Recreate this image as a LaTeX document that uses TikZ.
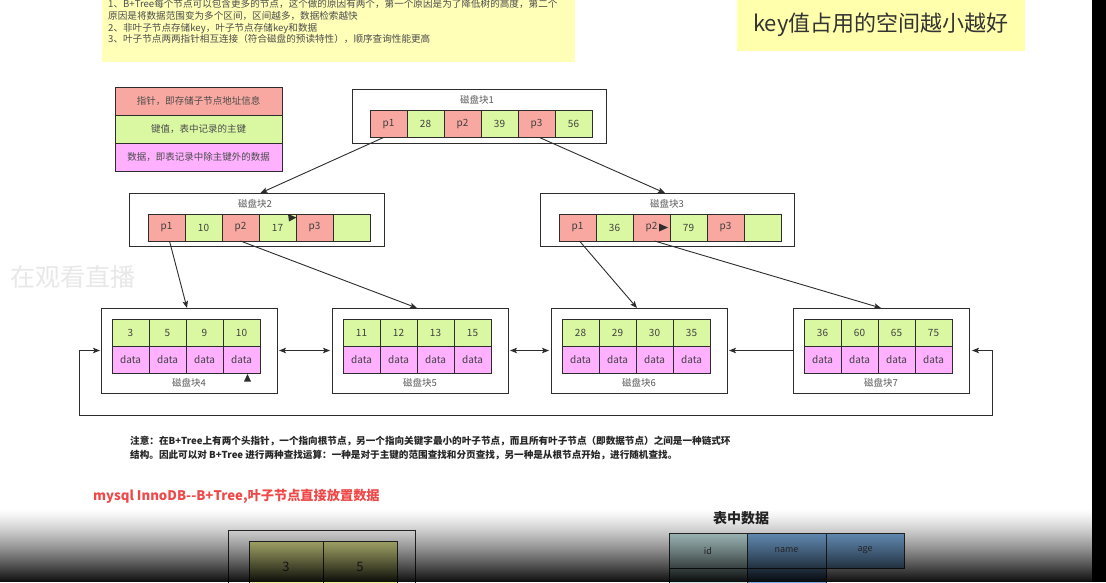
\documentclass[tikz,border=0pt]{standalone}
\usepackage{fontspec}
\setmainfont{Noto Sans CJK SC}
\usepackage{xcolor}
\definecolor{ptrred}{RGB}{248,168,160}
\definecolor{keygreen}{RGB}{218,248,162}
\definecolor{datapink}{RGB}{255,176,255}
\definecolor{noteyellow}{RGB}{255,255,184}
\definecolor{keyyellow}{RGB}{255,255,172}
\definecolor{linegray}{RGB}{45,45,45}
\definecolor{titlered}{RGB}{240,72,72}
\definecolor{idteal}{RGB}{200,232,232}
\definecolor{colblue}{RGB}{124,176,228}
\definecolor{oldgreen}{RGB}{236,240,150}
\usetikzlibrary{
  arrows.meta,
  positioning
}

\begin{document}
\begin{tikzpicture}[
    x=1pt, y=-1pt,
    >={Stealth[length=7pt,width=5.5pt,inset=1.5pt]},
    cell/.style={draw=linegray, outer sep=0pt, inner sep=0pt, minimum width=37pt, minimum height=27pt, font=\fontsize{10}{12}\selectfont, text=black!75},
    ptrcell/.style={cell, fill=ptrred},
    keycell/.style={cell, fill=keygreen},
    datacell/.style={cell, fill=datapink},
    diskbox/.style={draw=linegray, fill=white, outer sep=0pt, inner sep=0pt},
    disktitle/.style={font=\fontsize{9.5}{11}\selectfont, text=black!65},
    legcell/.style={cell, minimum width=167pt, minimum height=28pt, font=\fontsize{9.5}{11}\selectfont, text=black!70},
    link/.style={draw=linegray, line width=0.9pt, ->},
    colcell/.style={cell, minimum width=78.5pt, minimum height=35pt, font=\fontsize{9}{11}\selectfont}
  ]

  \useasboundingbox (0,0) rectangle (1106,582);
  \clip (0,0) rectangle (1106,582);
  \fill[white] (0,0) rectangle (1092,582);
  \fill[black] (1092,0) rectangle (1106,582);

  %% --- Notes on top ---
  \node[fill=noteyellow, minimum width=473pt, minimum height=67pt, inner sep=0pt] (notebox) at (338.5,28.5) {};
  \node[anchor=north west, align=left, inner sep=0pt, font=\fontsize{9.6}{11.7}\selectfont, text=black!70] (notes) at (108,-0.5)
    {1、B+Tree每个节点可以包含更多的节点，这个做的原因有两个，第一个原因是为了降低树的高度，第二个\\
     原因是将数据范围变为多个区间，区间越多，数据检索越快\\
     2、非叶子节点存储key，叶子节点存储key和数据\\
     3、叶子节点两两指针相互连接（符合磁盘的预读特性），顺序查询性能更高};

  \node[fill=keyyellow, minimum width=288pt, minimum height=52pt, font=\fontsize{22}{26}\selectfont, text=black!80] (keynote) at (881,25) {key值占用的空间越小越好};

  \node[font=\fontsize{25}{28}\selectfont, text=black!9, anchor=west, inner sep=0pt] (live) at (10,277) {在观看直播};

  %% --- Legend ---
  \node[legcell, fill=ptrred] (legptr) at (198.5,101) {指针，即存储子节点地址信息};
  \node[legcell, fill=keygreen, below=0pt of legptr] (legkey) {键值，表中记录的主键};
  \node[legcell, fill=datapink, below=0pt of legkey] (legdata) {数据，即表记录中除主键外的数据};

  %% --- Root block ---
  \node[diskbox, minimum width=254pt, minimum height=54pt] (disk1) at (479,116) {};
  \node[disktitle] (title1) at (477,100) {磁盘块1};
  \foreach \p/\k [count=\i] in {p1/28, p2/39, p3/56} {
    \node[ptrcell] (b1p\i) at ({388.5+74*(\i-1)},124) {\p};
    \node[keycell, right=0pt of b1p\i] (b1k\i) {\k};
  }

  %% --- Inner blocks ---
  \node[diskbox, minimum width=255pt, minimum height=53pt] (disk2) at (256.5,219.5) {};
  \node[disktitle] (title2) at (255,204) {磁盘块2};
  \foreach \p/\k [count=\i] in {p1/10, p2/17, p3/} {
    \node[ptrcell] (b2p\i) at ({166.5+74*(\i-1)},227.5) {\p};
    \node[keycell, right=0pt of b2p\i] (b2k\i) {\k};
  }

  \node[diskbox, minimum width=254pt, minimum height=53pt] (disk3) at (667,219.5) {};
  \node[disktitle] (title3) at (667,204) {磁盘块3};
  \foreach \p/\k [count=\i] in {p1/36, p2/79, p3/} {
    \node[ptrcell] (b3p\i) at ({577.5+74*(\i-1)},227.5) {\p};
    \node[keycell, right=0pt of b3p\i] (b3k\i) {\k};
  }

  %% --- Leaf blocks ---
  \foreach \n/\x/\keys in {4/101/{3,5,9,10}, 5/332/{11,12,13,15}, 6/551/{28,29,30,35}, 7/793/{36,60,65,75}} {
    \node[diskbox, minimum width=176pt, minimum height=85pt] (disk\n) at (\x+88,350.5) {};
    \node[disktitle] (title\n) at (\x+88,383) {磁盘块\n};
    \foreach \k [count=\j] in \keys {
      \node[keycell] (l\n-k\j) at ({\x+29.5+37*(\j-1)},332.5) {\k};
      \node[datacell, below=0pt of l\n-k\j] (l\n-d\j) {data};
    }
  }

  %% --- Connections ---
  \draw[link] ([xshift=-5pt]b1p1.south) -- ([xshift=4pt]disk2.north);
  \draw[link] ([xshift=3pt]b1p3.south) -- ([xshift=-2pt]disk3.north);
  \draw[link] ([xshift=3pt]b2p1.south) -- ([xshift=-2pt]disk4.north);
  \draw[link] (b2p2.south) -- ([xshift=-3pt]disk5.north);
  \draw[link] ([xshift=2pt]b3p1.south) -- ([xshift=-2pt]disk6.north);
  \draw[link] ([xshift=3pt]b3p2.south) -- (disk7.north);

  \draw[link, <->, shorten <=2pt, shorten >=2pt] (disk4.east) -- (disk5.west);
  \draw[link, <->, shorten <=2pt, shorten >=2pt] (disk5.east) -- (disk6.west);
  \draw[link, shorten >=2pt] (disk7.west) -- (disk6.east);
  \coordinate (loopL) at (79,415);
  \coordinate (loopR) at (992,415);
  \draw[link, <->, shorten <=1pt, shorten >=3pt] (disk4.west) -| (loopL) -- (loopR) |- (disk7.east);

  %% small tips
  \fill[linegray] (288,214) -- (296.5,217.5) -- (289,221.5) -- cycle;
  \fill[linegray] (659,223.5) -- (668,227.5) -- (659,231.5) -- cycle;
  \fill[linegray] (247.5,374) -- (251,381.5) -- (244,381.5) -- cycle;

  %% --- Remark ---
  \node[anchor=north west, align=left, inner sep=0pt, font=\bfseries\fontsize{9.6}{13.6}\selectfont, text=black!85] (remark) at (130,436)
    {注意：在B+Tree上有两个头指针，一个指向根节点，另一个指向关键字最小的叶子节点，而且所有叶子节点（即数据节点）之间是一种链式环\\
     结构。因此可以对 B+Tree 进行两种查找运算：一种是对于主键的范围查找和分页查找，另一种是从根节点开始，进行随机查找。};

  %% --- InnoDB part ---
  \node[anchor=west, inner sep=0pt, font=\bfseries\fontsize{13.2}{15}\selectfont, text=titlered] (innodb) at (93,496) {mysql InnoDB-{}-B+Tree,叶子节点直接放置数据};

  \node[diskbox, minimum width=187pt, minimum height=80pt] (disk0) at (321.5,570) {};
  \node[keycell, fill=oldgreen, minimum width=74pt, minimum height=52pt, font=\fontsize{13}{15}\selectfont] (ik1) at (286,567) {3};
  \node[keycell, fill=oldgreen, minimum width=74pt, minimum height=52pt, font=\fontsize{13}{15}\selectfont, right=0pt of ik1] (ik2) {5};

  \node[font=\bfseries\fontsize{14}{16}\selectfont, text=black!85] (tabletitle) at (741,518) {表中数据};
  \node[colcell, fill=idteal] (hid) at (708,550.5) {id};
  \node[colcell, fill=colblue, right=0pt of hid] (hname) {name};
  \node[colcell, fill=colblue, right=0pt of hname] (hage) {age};
  \node[colcell, fill=idteal, below=0pt of hid] (rid) {};
  \node[colcell, fill=colblue, below=0pt of hname] (rname) {};

  %% --- dark fade at the bottom ---
  \foreach \y in {509,...,581} {
    \pgfmathsetmacro{\fadeop}{0.95*((\y-508)/74)^1.3}
    \fill[black, opacity=\fadeop] (0,\y) rectangle (1092,\y+1);
  }
\end{tikzpicture}
\end{document}
